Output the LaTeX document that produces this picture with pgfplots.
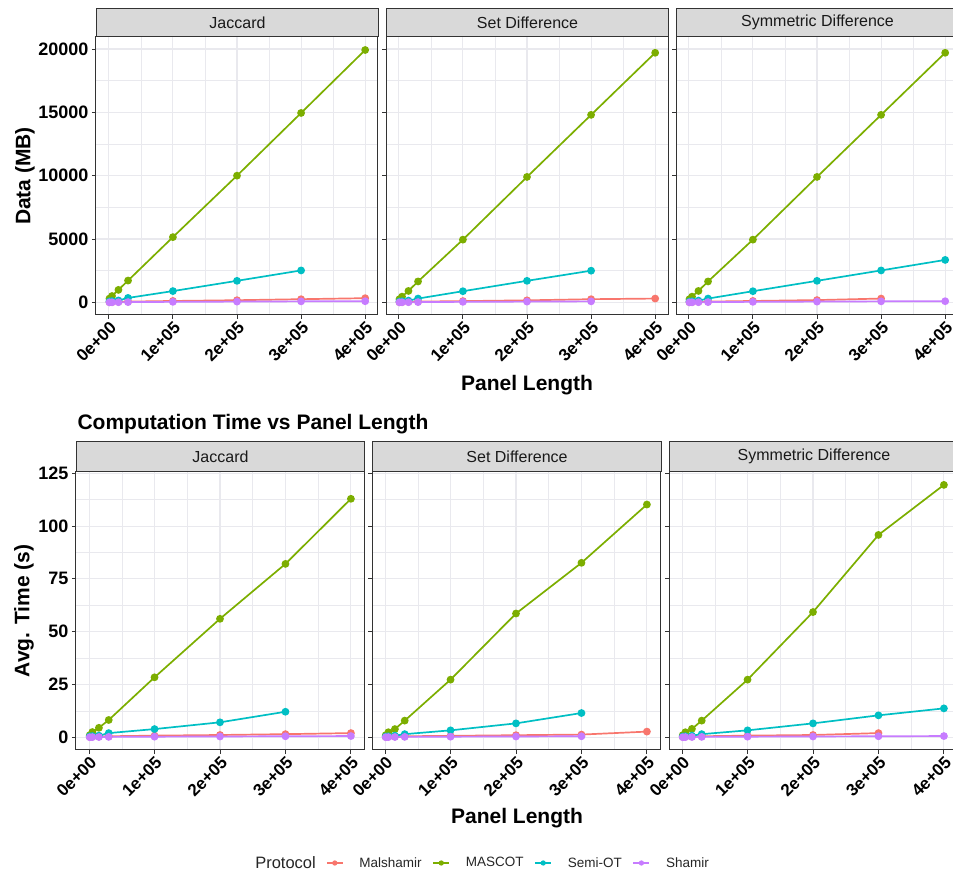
\documentclass[border=0pt]{standalone}
\usepackage{fontspec}
\setmainfont{Liberation Sans}
\usepackage{pgfplots}
\pgfplotsset{compat=1.18}
\definecolor{cMal}{HTML}{F8766D}
\definecolor{cMas}{HTML}{7CAE00}
\definecolor{cSem}{HTML}{00BFC4}
\definecolor{cSha}{HTML}{C77CFF}
\definecolor{gridc}{HTML}{E9E9EE}
\definecolor{framec}{HTML}{333333}
\definecolor{stripc}{HTML}{D9D9D9}
\pgfplotsset{
  facet/.style={
    scale only axis, height=278pt, xmin=-20000, xmax=420000,
    scaled x ticks=false, scaled y ticks=false,
    axis line style={framec, line width=1pt},
    xtick={0,100000,200000,300000,400000},
    xticklabels={0e+00,1e+05,2e+05,3e+05,4e+05},
    minor xtick={50000,150000,250000,350000},
    grid=both,
    major grid style={gridc, line width=1.1pt},
    minor grid style={gridc, line width=0.6pt},
    tick align=outside, major tick length=4pt, minor tick length=0pt,
    xtick pos=left, ytick pos=left,
    tick style={framec, line width=0.9pt},
    xticklabel style={rotate=45, anchor=north east, inner sep=1pt,
      font=\bfseries\fontsize{17}{20}\selectfont},
    yticklabel style={font=\bfseries\fontsize{18}{20}\selectfont},
    every axis plot/.append style={line width=1.7pt, mark=*, mark size=3pt},
  },
  toprow/.style={facet, width=282pt, ymin=-997, ymax=20947,
    ytick={0,5000,10000,15000,20000},
    minor ytick={2500,7500,12500,17500}},
  botrow/.style={facet, width=288pt, ymin=-6, ymax=125.6,
    ytick={0,25,50,75,100,125},
    minor ytick={12.5,37.5,62.5,87.5,112.5}},
}
\tikzset{
  strip/.style={draw=framec, line width=1pt, fill=stripc, inner sep=0pt,
    anchor=south west, font=\fontsize{16}{18}\selectfont, text=black!90},
}
\begin{document}
\begin{tikzpicture}
\useasboundingbox (0,0) rectangle (953pt,874pt);

% ---------------- Top row: Data (MB) ----------------
\begin{axis}[toprow, at={(96pt,559pt)}, anchor=south west,
  yticklabels={0,5000,10000,15000,20000}]
\addplot[cMal] coordinates {(1000,10)(5000,20)(15000,40)(30000,60)(100000,110)(200000,170)(300000,250)(400000,330)};
\addplot[cMas] coordinates {(1000,300)(5000,500)(15000,985)(30000,1720)(100000,5150)(200000,10000)(300000,14950)(400000,19920)};
\addplot[cSem] coordinates {(1000,80)(5000,100)(15000,150)(30000,350)(100000,890)(200000,1700)(300000,2520)};
\addplot[cSha] coordinates {(1000,2)(5000,5)(15000,12)(30000,20)(100000,40)(200000,60)(300000,80)(400000,90)};
\end{axis}
\node[strip, minimum width=282pt, minimum height=28pt] at (96pt,837pt) {Jaccard};

\begin{axis}[toprow, at={(386pt,559pt)}, anchor=south west, yticklabels={}]
\addplot[cMal] coordinates {(1000,10)(5000,20)(15000,40)(30000,60)(100000,100)(200000,160)(300000,250)(400000,300)};
\addplot[cMas] coordinates {(1000,250)(5000,450)(15000,900)(30000,1650)(100000,4950)(200000,9900)(300000,14800)(400000,19700)};
\addplot[cSem] coordinates {(1000,70)(5000,90)(15000,140)(30000,300)(100000,880)(200000,1700)(300000,2500)};
\addplot[cSha] coordinates {(1000,2)(5000,5)(15000,12)(30000,20)(100000,40)(200000,60)(300000,80)};
\end{axis}
\node[strip, minimum width=282pt, minimum height=28pt] at (386pt,837pt) {Set Difference};

\begin{axis}[toprow, at={(676pt,559pt)}, anchor=south west, yticklabels={}]
\addplot[cMal] coordinates {(1000,10)(5000,20)(15000,40)(30000,60)(100000,110)(200000,180)(300000,300)};
\addplot[cMas] coordinates {(1000,250)(5000,450)(15000,900)(30000,1650)(100000,4950)(200000,9900)(300000,14800)(400000,19700)};
\addplot[cSem] coordinates {(1000,70)(5000,90)(15000,140)(30000,300)(100000,880)(200000,1700)(300000,2520)(400000,3350)};
\addplot[cSha] coordinates {(1000,2)(5000,5)(15000,12)(30000,20)(100000,40)(200000,60)(300000,80)(400000,90)};
\end{axis}
\node[strip, minimum width=282pt, minimum height=28pt] at (676pt,837pt) {Symmetric Difference};

\node[rotate=90, font=\bfseries\fontsize{21}{24}\selectfont] at (25pt,698pt) {Data (MB)};
\node[font=\bfseries\fontsize{21}{24}\selectfont] at (527pt,489pt) {Panel Length};

% ---------------- Bottom row: time ----------------
\node[anchor=west, font=\bfseries\fontsize{21}{24}\selectfont] at (74pt,450pt) {Computation Time vs Panel Length};

\begin{axis}[botrow, at={(76pt,124pt)}, anchor=south west,
  yticklabels={0,25,50,75,100,125}]
\addplot[cMal] coordinates {(1000,0.2)(5000,0.3)(15000,0.4)(30000,0.5)(100000,0.8)(200000,1.1)(300000,1.5)(400000,2.0)};
\addplot[cMas] coordinates {(1000,1.0)(5000,2.5)(15000,4.5)(30000,8.2)(100000,28.4)(200000,56.1)(300000,82.1)(400000,112.9)};
\addplot[cSem] coordinates {(1000,0.5)(5000,0.6)(15000,0.8)(30000,2.0)(100000,3.9)(200000,7.1)(300000,12.1)};
\addplot[cSha] coordinates {(1000,0.05)(5000,0.1)(15000,0.15)(30000,0.2)(100000,0.3)(200000,0.4)(300000,0.5)(400000,0.6)};
\end{axis}
\node[strip, minimum width=288pt, minimum height=30pt] at (76pt,402pt) {Jaccard};

\begin{axis}[botrow, at={(372pt,124pt)}, anchor=south west, yticklabels={}]
\addplot[cMal] coordinates {(1000,0.2)(5000,0.3)(15000,0.4)(30000,0.5)(100000,0.7)(200000,1.0)(300000,1.3)(400000,2.7)};
\addplot[cMas] coordinates {(1000,1.0)(5000,2.4)(15000,3.9)(30000,7.9)(100000,27.3)(200000,58.6)(300000,82.6)(400000,110.2)};
\addplot[cSem] coordinates {(1000,0.4)(5000,0.5)(15000,0.8)(30000,1.5)(100000,3.3)(200000,6.6)(300000,11.5)};
\addplot[cSha] coordinates {(1000,0.05)(5000,0.1)(15000,0.15)(30000,0.2)(100000,0.3)(200000,0.4)(300000,0.5)};
\end{axis}
\node[strip, minimum width=289pt, minimum height=30pt] at (372pt,402pt) {Set Difference};

\begin{axis}[botrow, at={(669pt,124pt)}, anchor=south west, yticklabels={}]
\addplot[cMal] coordinates {(1000,0.2)(5000,0.3)(15000,0.4)(30000,0.5)(100000,0.8)(200000,1.1)(300000,2.0)};
\addplot[cMas] coordinates {(1000,1.0)(5000,2.4)(15000,4.0)(30000,7.9)(100000,27.3)(200000,59.3)(300000,95.8)(400000,119.5)};
\addplot[cSem] coordinates {(1000,0.4)(5000,0.5)(15000,0.8)(30000,1.5)(100000,3.3)(200000,6.6)(300000,10.4)(400000,13.7)};
\addplot[cSha] coordinates {(1000,0.05)(5000,0.1)(15000,0.15)(30000,0.2)(100000,0.3)(200000,0.4)(300000,0.5)(400000,0.6)};
\end{axis}
\node[strip, minimum width=289pt, minimum height=30pt] at (669pt,402pt) {Symmetric Difference};

\node[rotate=90, font=\bfseries\fontsize{21}{24}\selectfont] at (24pt,263pt) {Avg. Time (s)};
\node[font=\bfseries\fontsize{21}{24}\selectfont] at (517pt,56pt) {Panel Length};

% ---------------- Legend ----------------
\node[font=\fontsize{16.5}{18}\selectfont, text=black!85, anchor=east, inner sep=0pt] at (316pt,11pt) {Protocol};
\begin{axis}[hide axis, scale only axis, width=1pt, height=1pt,
  xmin=0, xmax=1, ymin=0, ymax=1, at={(326pt,11pt)}, anchor=west,
  legend columns=-1,
  legend style={at={(0,0.5)}, anchor=west, draw=none, fill=none, inner sep=0pt,
    font=\fontsize{13.5}{16}\selectfont, text=black!85,
    /tikz/every odd column/.append style={column sep=14pt},
    /tikz/every even column/.append style={column sep=9pt}},
  legend image code/.code={\draw[#1, line width=1.2pt, mark size=2pt, mark repeat=2, mark phase=2] plot coordinates {(0pt,0pt) (8pt,0pt) (16pt,0pt)};}]
\addlegendimage{cMal, mark=*}\addlegendentry{Malshamir}
\addlegendimage{cMas, mark=*}\addlegendentry{MASCOT}
\addlegendimage{cSem, mark=*}\addlegendentry{Semi-OT}
\addlegendimage{cSha, mark=*}\addlegendentry{Shamir}
\end{axis}
\end{tikzpicture}
\end{document}
